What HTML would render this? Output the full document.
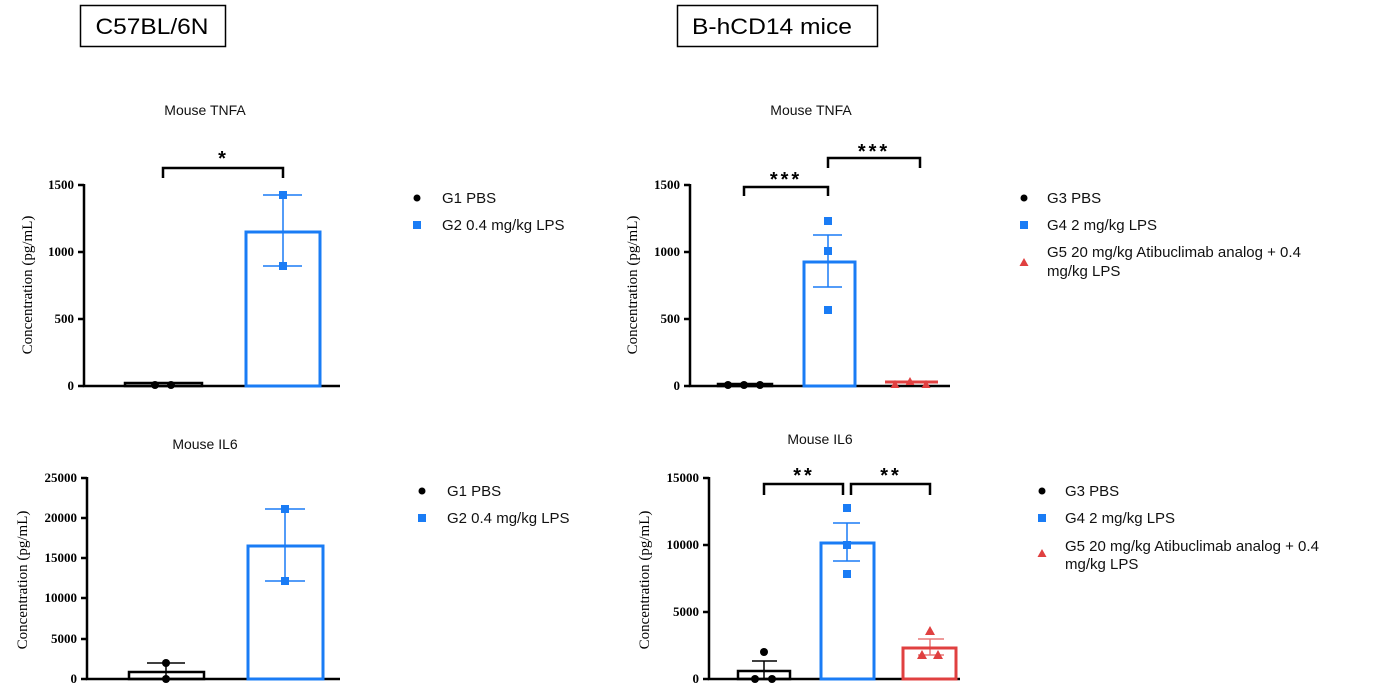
<!DOCTYPE html>
<html><head><meta charset="utf-8"><style>
html,body{margin:0;padding:0;background:#fff;}
svg{display:block;}
text{font-family:"Liberation Sans",sans-serif;}
g.t text{font-family:"Liberation Serif",serif;font-weight:bold;font-size:13px;}
text.yl{font-family:"Liberation Serif",serif;font-size:15px;}
.lg{font-size:15px;fill:#111;}
.ti{font-size:14px;fill:#111;}
.st{font-size:20px;font-weight:bold;}
</style></head><body>
<svg width="1376" height="693" viewBox="0 0 1376 693" xmlns="http://www.w3.org/2000/svg">
<!-- headers -->
<rect x="80.5" y="5.5" width="145" height="41" fill="none" stroke="#000" stroke-width="1.5"/>
<text x="152" y="34" text-anchor="middle" font-size="22" textLength="113" lengthAdjust="spacingAndGlyphs">C57BL/6N</text>
<rect x="677.5" y="5.5" width="200" height="41" fill="none" stroke="#000" stroke-width="1.5"/>
<text x="772" y="34" text-anchor="middle" font-size="22" textLength="160" lengthAdjust="spacingAndGlyphs">B-hCD14 mice</text>

<!-- Chart A -->
<text class="ti" x="205" y="115" text-anchor="middle">Mouse TNFA</text>
<text class="yl" transform="translate(32,285) rotate(-90)" text-anchor="middle">Concentration (pg/mL)</text>
<g stroke="#000" stroke-width="2.5" fill="none">
<path d="M84,184 V386 H340"/>
<path d="M78,185H84 M78,252H84 M78,319H84 M78,386H84"/>
<path d="M163,178 V168 H283 V178"/>
</g>
<g class="t" text-anchor="end"><text x="74" y="189">1500</text><text x="74" y="256">1000</text><text x="74" y="323">500</text><text x="74" y="390">0</text></g>
<text class="st" x="222" y="165" text-anchor="middle">*</text>
<rect x="125" y="383" width="77" height="3" fill="none" stroke="#000" stroke-width="2.5"/>
<circle cx="155" cy="385" r="4"/><circle cx="171" cy="385" r="4"/>
<rect x="246" y="232" width="74" height="154" fill="none" stroke="#1a7cf5" stroke-width="3"/>
<path d="M283,195V266 M263,195H302 M263,266H302" stroke="#1a7cf5" stroke-width="1.5"/>
<rect x="279" y="191" width="8" height="8" fill="#1a7cf5"/><rect x="279" y="262" width="8" height="8" fill="#1a7cf5"/>
<circle cx="417" cy="198" r="3.5"/><text class="lg" x="442" y="203">G1 PBS</text>
<rect x="413" y="221" width="8" height="8" fill="#1a7cf5"/><text class="lg" x="442" y="230">G2 0.4 mg/kg LPS</text>

<!-- Chart B -->
<text class="ti" x="811" y="115" text-anchor="middle">Mouse TNFA</text>
<text class="yl" transform="translate(637,285) rotate(-90)" text-anchor="middle">Concentration (pg/mL)</text>
<g stroke="#000" stroke-width="2.5" fill="none">
<path d="M690,184 V386 H950"/>
<path d="M684,185H690 M684,252H690 M684,319H690 M684,386H690"/>
<path d="M744,196 V187 H828 V196 M828,168 V158 H920 V168"/>
</g>
<g class="t" text-anchor="end"><text x="680" y="189">1500</text><text x="680" y="256">1000</text><text x="680" y="323">500</text><text x="680" y="390">0</text></g>
<text class="st" x="786" y="186" text-anchor="middle" letter-spacing="3">***</text>
<text class="st" x="874" y="158" text-anchor="middle" letter-spacing="3">***</text>
<rect x="718" y="384" width="54" height="2" fill="none" stroke="#000" stroke-width="2.5"/>
<circle cx="728" cy="385" r="4"/><circle cx="744" cy="385" r="4"/><circle cx="760" cy="385" r="4"/>
<rect x="804" y="262" width="51" height="124" fill="none" stroke="#1a7cf5" stroke-width="3"/>
<path d="M828,235V287 M813,235H842 M813,287H842" stroke="#1a7cf5" stroke-width="1.5"/>
<rect x="824" y="217" width="8" height="8" fill="#1a7cf5"/><rect x="824" y="247" width="8" height="8" fill="#1a7cf5"/><rect x="824" y="306" width="8" height="8" fill="#1a7cf5"/>
<path d="M885,382H938" stroke="#e04040" stroke-width="3"/>
<g fill="#e04040"><path d="M895,380l4.5,8h-9z"/><path d="M910,377l4.5,8h-9z"/><path d="M926,380l4.5,8h-9z"/></g>
<circle cx="1024" cy="198" r="3.5"/><text class="lg" x="1047" y="203">G3 PBS</text>
<rect x="1020" y="221" width="8" height="8" fill="#1a7cf5"/><text class="lg" x="1047" y="230">G4 2 mg/kg LPS</text>
<path d="M1024,258l4.5,8h-9z" fill="#e04040"/><text class="lg" x="1047" y="257">G5 20 mg/kg Atibuclimab analog + 0.4</text><text class="lg" x="1047" y="276">mg/kg LPS</text>

<!-- Chart C -->
<text class="ti" x="205" y="449" text-anchor="middle">Mouse IL6</text>
<text class="yl" transform="translate(27,580) rotate(-90)" text-anchor="middle">Concentration (pg/mL)</text>
<g stroke="#000" stroke-width="2.5" fill="none">
<path d="M87,477 V679 H340"/>
<path d="M81,478H87 M81,518H87 M81,558H87 M81,598H87 M81,639H87 M81,679H87"/>
</g>
<g class="t" text-anchor="end"><text x="77" y="482">25000</text><text x="77" y="522">20000</text><text x="77" y="562">15000</text><text x="77" y="602">10000</text><text x="77" y="643">5000</text><text x="77" y="683">0</text></g>
<rect x="129" y="672" width="75" height="7" fill="none" stroke="#000" stroke-width="2.5"/>
<path d="M166,663V679 M147,663H185" stroke="#000" stroke-width="1.5"/>
<circle cx="166" cy="663" r="4"/><circle cx="166" cy="679" r="4"/>
<rect x="248" y="546" width="75" height="133" fill="none" stroke="#1a7cf5" stroke-width="3"/>
<path d="M285,509V581 M265,509H305 M265,581H305" stroke="#1a7cf5" stroke-width="1.5"/>
<rect x="281" y="505" width="8" height="8" fill="#1a7cf5"/><rect x="281" y="577" width="8" height="8" fill="#1a7cf5"/>
<circle cx="422" cy="491" r="3.5"/><text class="lg" x="447" y="496">G1 PBS</text>
<rect x="418" y="514" width="8" height="8" fill="#1a7cf5"/><text class="lg" x="447" y="523">G2 0.4 mg/kg LPS</text>

<!-- Chart D -->
<text class="ti" x="820" y="444" text-anchor="middle">Mouse IL6</text>
<text class="yl" transform="translate(649,580) rotate(-90)" text-anchor="middle">Concentration (pg/mL)</text>
<g stroke="#000" stroke-width="2.5" fill="none">
<path d="M709,477 V679 H960"/>
<path d="M703,478H709 M703,545H709 M703,612H709 M703,679H709"/>
<path d="M764,495 V484 H843 V495 M851,495 V484 H930 V495"/>
</g>
<g class="t" text-anchor="end"><text x="699" y="482">15000</text><text x="699" y="549">10000</text><text x="699" y="616">5000</text><text x="699" y="683">0</text></g>
<text class="st" x="804" y="482" text-anchor="middle" letter-spacing="3">**</text>
<text class="st" x="891" y="482" text-anchor="middle" letter-spacing="3">**</text>
<rect x="738" y="671" width="52" height="8" fill="none" stroke="#000" stroke-width="2.5"/>
<path d="M764,661V679 M752,661H777" stroke="#000" stroke-width="1.5"/>
<circle cx="764" cy="652" r="4"/><circle cx="755" cy="679" r="4"/><circle cx="772" cy="679" r="4"/>
<rect x="821" y="543" width="53" height="136" fill="none" stroke="#1a7cf5" stroke-width="3"/>
<path d="M847,523V561 M833,523H860 M833,561H860" stroke="#1a7cf5" stroke-width="1.5"/>
<rect x="843" y="504" width="8" height="8" fill="#1a7cf5"/><rect x="843" y="541" width="8" height="8" fill="#1a7cf5"/><rect x="843" y="570" width="8" height="8" fill="#1a7cf5"/>
<rect x="903" y="648" width="53" height="31" fill="none" stroke="#e04040" stroke-width="3"/>
<path d="M930,639V655 M918,639H944 M918,655H944" stroke="#e04040" stroke-width="1.5" opacity="0.7"/>
<g fill="#e04040"><path d="M930,626l5,9h-10z"/><path d="M922,650l5,9h-10z"/><path d="M938,650l5,9h-10z"/></g>
<circle cx="1042" cy="491" r="3.5"/><text class="lg" x="1065" y="496">G3 PBS</text>
<rect x="1038" y="514" width="8" height="8" fill="#1a7cf5"/><text class="lg" x="1065" y="523">G4 2 mg/kg LPS</text>
<path d="M1042,549l4.5,8h-9z" fill="#e04040"/><text class="lg" x="1065" y="551">G5 20 mg/kg Atibuclimab analog + 0.4</text><text class="lg" x="1065" y="569">mg/kg LPS</text>
</svg>
</body></html>
